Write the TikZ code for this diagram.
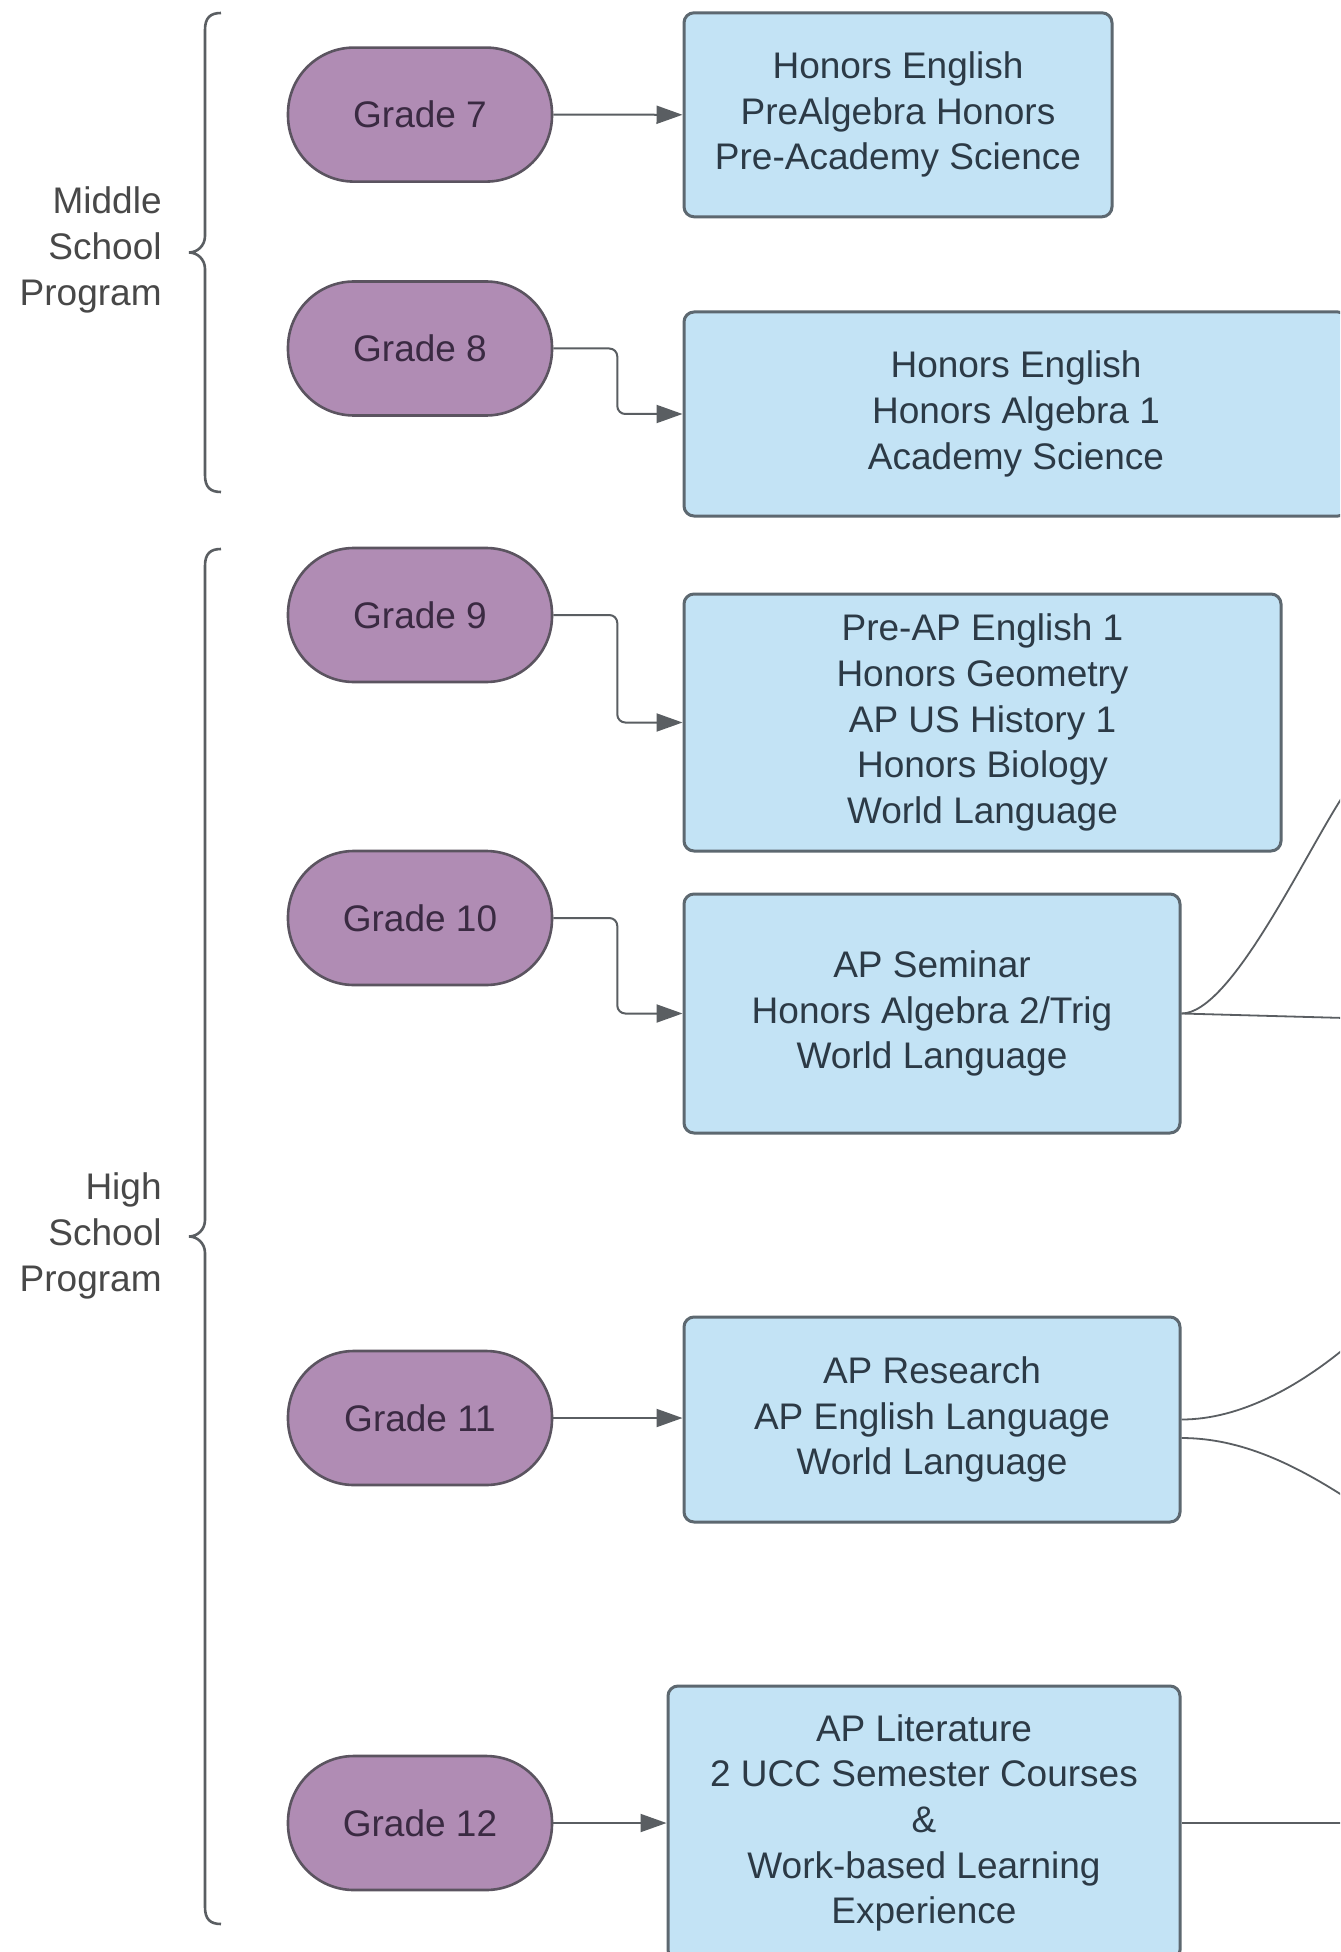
\documentclass[tikz,border=0pt]{standalone}
\usepackage{fontspec}
\setmainfont{Liberation Sans}
\usetikzlibrary{arrows.meta}
\definecolor{pillfill}{HTML}{B08CB4}
\definecolor{pillline}{HTML}{5B5460}
\definecolor{pilltext}{HTML}{3A2A42}
\definecolor{boxfill}{HTML}{C3E3F5}
\definecolor{boxline}{HTML}{5D6870}
\definecolor{boxtext}{HTML}{2C3A46}
\definecolor{lineclr}{HTML}{5A5E62}
\definecolor{labeltext}{HTML}{484848}
\begin{document}
\begin{tikzpicture}[x=0.5pt,y=-0.5pt,
  every node/.style={font=\fontsize{18.5}{22.8}\selectfont},
  pill/.style={draw=pillline, line width=1.3pt, fill=pillfill, text=pilltext, rounded corners=33pt, minimum width=132pt, minimum height=67pt, inner sep=0pt},
  course/.style={draw=boxline, line width=1.5pt, fill=boxfill, text=boxtext, rounded corners=5pt, align=center, inner sep=0pt},
  conn/.style={draw=lineclr, line width=1pt, rounded corners=4pt, -{Triangle[length=13pt,width=9pt]}},
  link/.style={draw=lineclr, line width=0.9pt},
  brace/.style={draw=lineclr, line width=1.3pt},
  side/.style={text=labeltext, align=right, anchor=east, inner sep=0pt}
]
\fill[white] (0,0) rectangle (1340,1952);
\useasboundingbox (0,0) rectangle (1340,1952);
\clip (0,0) rectangle (1340,1952);

% side labels and braces
\node[side] (ms) at (162,250) {Middle\\School\\Program};
\node[side] (hs) at (162,1236) {High\\School\\Program};
\draw[brace] (221,13) .. controls (210,13) and (205,18) .. (205,30) -- (205,236) .. controls (205,246) and (197,252.5) .. (189,252.5) .. controls (197,252.5) and (205,259) .. (205,269) -- (205,475) .. controls (205,487) and (210,492) .. (221,492);
\draw[brace] (221,549) .. controls (210,549) and (205,554) .. (205,566) -- (205,1220) .. controls (205,1230) and (197,1236.5) .. (189,1236.5) .. controls (197,1236.5) and (205,1243) .. (205,1253) -- (205,1907) .. controls (205,1919) and (210,1924) .. (221,1924);

% grade pills
\node[pill] (g7) at (420,114.6) {Grade 7};
\node[pill] (g8) at (420,348.5) {Grade 8};
\node[pill] (g9) at (420,615) {Grade 9};
\node[pill] (g10) at (420,918) {Grade 10};
\node[pill] (g11) at (420,1418) {Grade 11};
\node[pill] (g12) at (420,1823) {Grade 12};

% course boxes
\node[course, minimum width=214pt, minimum height=102pt] (b7) at (898,114.8) {Honors English\\PreAlgebra Honors\\Pre-Academy Science};
\node[course, minimum width=332pt, minimum height=102pt] (b8) at (1016,414) {Honors English\\Honors Algebra 1\\Academy Science};
\node[course, minimum width=298.5pt, minimum height=128.5pt] (b9) at (982.5,722.5) {Pre-AP English 1\\Honors Geometry\\AP US History 1\\Honors Biology\\World Language};
\node[course, minimum width=248pt, minimum height=119.5pt] (b10) at (932,1013.5) {AP Seminar\\Honors Algebra 2/Trig\\World Language};
\node[course, minimum width=248pt, minimum height=102.5pt] (b11) at (932,1419.5) {AP Research\\AP English Language\\World Language};
\node[course, minimum width=256pt, minimum height=137pt] (b12) at (924,1823) {AP Literature\\2 UCC Semester Courses\\\&\\Work-based Learning\\Experience};

% grade to course connectors
\draw[conn] (g7.east) -- (b7.west);
\draw[conn] (g8.east) -- ++(64,0) |- (b8.west);
\draw[conn] (g9.east) -- ++(64,0) |- (b9.west);
\draw[conn] (g10.east) -- ++(64,0) |- (b10.west);
\draw[conn] (g11.east) -- (g11.east -| b11.west);
\draw[conn] (g12.east) -- (b12.west);

% outgoing links leaving the page
\coordinate (o10a) at (1345,793);
\coordinate (o10b) at (1345,1018);
\coordinate (o11a) at (1345,1348);
\coordinate (o11b) at (1345,1497);
\coordinate (o12) at (1345,1823);
\draw[link] (b10.east) .. controls +(50,0) and (1305,853) .. (o10a);
\draw[link] (b10.east) -- (o10b);
\draw[link] (b11.east) .. controls +(60,0) and (1300,1385) .. (o11a);
\draw[link] ([yshift=-9.25pt]b11.east) .. controls +(60,0) and (1295,1465) .. (o11b);
\draw[link] (b12.east) -- (o12);
\end{tikzpicture}
\end{document}
